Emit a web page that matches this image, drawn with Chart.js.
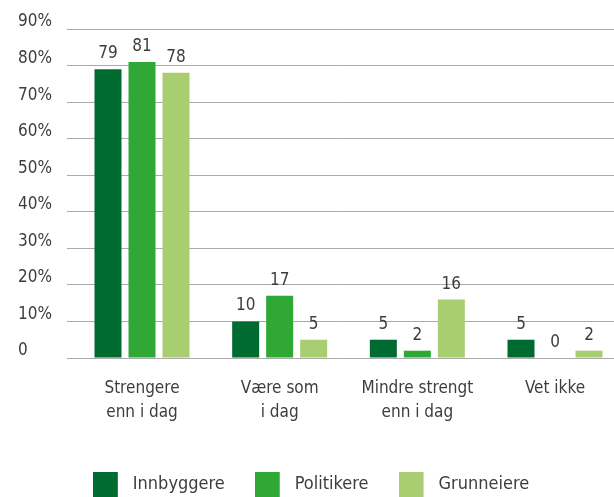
<!DOCTYPE html>
<html>
<head>
<meta charset="utf-8">
<script src="https://cdn.jsdelivr.net/npm/chart.js@4/dist/chart.umd.min.js"></script>
<style>
  html, body { margin: 0; padding: 0; background: #fff; }
  #wrap { width: 614px; height: 497px; position: relative; }
</style>
</head>
<body>
<div id="wrap"><canvas id="chart"></canvas></div>
<script>
const categories = [['Strengere', 'enn i dag'], ['Være som', 'i dag'], ['Mindre strengt', 'enn i dag'], ['Vet ikke']];
const innbyggere = [79, 10, 5, 5];
const politikere = [81, 17, 2, 0];
const grunneiere = [78, 5, 16, 2];
const yTickLabels = ['0', '10%', '20%', '30%', '40%', '50%', '60%', '70%', '80%', '90%'];

const colors = ['#006b30', '#2fa836', '#a9ce71'];
const textColor = '#3d3d3d';
const fontFamily = "'DejaVu Sans Condensed', 'Liberation Sans Narrow', sans-serif";

Chart.defaults.font.family = fontFamily;
Chart.defaults.color = textColor;

// legend square with some empty room on the right, so the text sits further away
function swatch(color) {
    const c = document.createElement('canvas');
    c.width = 31;
    c.height = 25;
    const g = c.getContext('2d');
    g.fillStyle = color;
    g.fillRect(0, 0, 25, 25);
    return c;
}
const swatches = colors.map(swatch);

const valueLabels = {
    id: 'valueLabels',
    afterDatasetsDraw(chart) {
        const ctx = chart.ctx;
        ctx.save();
        ctx.font = '17px ' + fontFamily;
        ctx.fillStyle = textColor;
        ctx.textAlign = 'center';
        ctx.textBaseline = 'alphabetic';
        chart.data.datasets.forEach((ds, i) => {
            chart.getDatasetMeta(i).data.forEach((bar, j) => {
                ctx.fillText(ds.data[j].y, bar.x, bar.y - 11);
            });
        });
        ctx.restore();
    }
};

const toPoints = arr => arr.map((v, i) => ({ x: i, y: v }));

const data = {
    datasets: [{
        label: 'Innbyggere',
        data: toPoints(innbyggere),
        backgroundColor: colors[0]
    }, {
        label: 'Politikere',
        data: toPoints(politikere),
        backgroundColor: colors[1]
    }, {
        label: 'Grunneiere',
        data: toPoints(grunneiere),
        backgroundColor: colors[2]
    }]
};

const ctx = document.getElementById('chart').getContext('2d');
const myChart = new Chart(ctx, {
    type: 'bar',
    data: data,
    plugins: [valueLabels],
    options: {
        responsive: true,
        maintainAspectRatio: false,
        animation: false,
        categoryPercentage: 0.741,
        barPercentage: 0.794,
        layout: {
            padding: { top: 29, right: 0, bottom: -6.5, left: 8 }
        },
        scales: {
            x: {
                type: 'linear',
                offset: false,
                min: -0.5448,
                max: 3.4285,
                grid: { display: false, offset: false },
                border: { display: false },
                afterBuildTicks: s => { s.ticks = categories.map((c, i) => ({ value: i })); },
                afterFit: s => { s.height = 87.5; },
                ticks: {
                    callback: v => categories[v],
                    padding: 11,
                    maxRotation: 0,
                    autoSkip: false,
                    color: textColor,
                    font: { size: 17, lineHeight: 1.41 }
                }
            },
            y: {
                min: 0,
                max: 90,
                grid: { color: '#aaaaaa', lineWidth: 1, drawTicks: false },
                border: { display: false },
                afterFit: s => { s.width = 59; },
                ticks: {
                    stepSize: 10,
                    mirror: true,
                    padding: -49,
                    labelOffset: -7,
                    callback: (v, i) => yTickLabels[i],
                    color: textColor,
                    font: { size: 17 }
                }
            }
        },
        plugins: {
            tooltip: { enabled: false },
            legend: {
                position: 'bottom',
                labels: {
                    usePointStyle: true,
                    pointStyleWidth: 31,
                    padding: 30,
                    color: textColor,
                    font: { size: 18 },
                    generateLabels: chart => Chart.defaults.plugins.legend.labels.generateLabels(chart)
                        .map((item, i) => Object.assign(item, { pointStyle: swatches[i] }))
                }
            }
        }
    }
});
</script>
</body>
</html>
